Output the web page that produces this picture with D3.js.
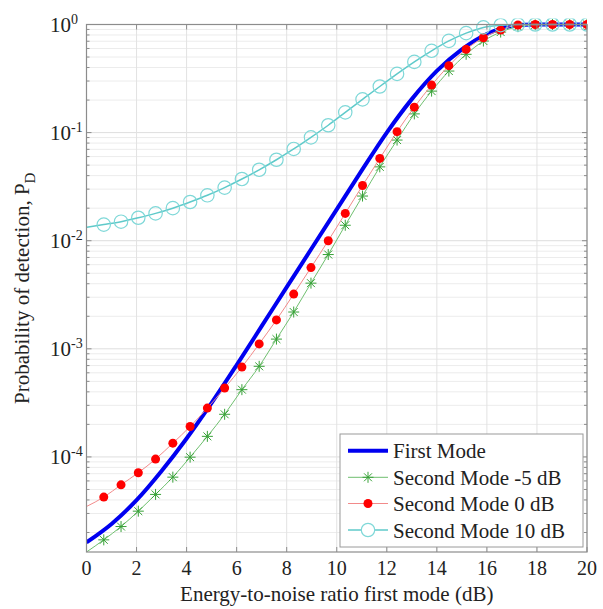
<!DOCTYPE html>
<html>
<head>
<meta charset="utf-8">
<script src="https://cdn.jsdelivr.net/npm/d3@7"></script>
<style>
  body { margin: 0; background: #fff; }
</style>
</head>
<body>
<div id="chart"></div>
<script>
// x values (dB) where the second-mode curves are sampled / marked
const snrMarks = [0, 0.69, 1.38, 2.07, 2.76, 3.45, 4.14, 4.83, 5.52, 6.21, 6.90, 7.59, 8.28, 8.97, 9.66,
  10.34, 11.03, 11.72, 12.41, 13.10, 13.79, 14.48, 15.17, 15.86, 16.55, 17.24, 17.93, 18.62, 19.31, 20];

// first mode, read at whole dB
const snrFirst = [0, 1, 2, 3, 4, 5, 6, 7, 8, 9, 10, 11, 12, 13, 14, 15, 16, 17, 18, 19, 20];
const pdFirst = [1.62e-5, 2.40e-5, 3.98e-5, 7.41e-5, 1.48e-4, 3.16e-4, 7.08e-4, 1.62e-3, 3.72e-3, 8.51e-3,
  1.95e-2, 4.47e-2, 0.100, 0.204, 0.372, 0.589, 0.817, 0.970, 1, 1, 1];

const pdSecondM5 = [1.32e-5, 1.71e-5, 2.27e-5, 3.15e-5, 4.50e-5, 6.50e-5, 9.95e-5, 1.55e-4, 2.48e-4, 4.19e-4,
  6.89e-4, 1.23e-3, 2.19e-3, 4.05e-3, 7.45e-3, 1.39e-2, 2.59e-2, 4.82e-2, 8.53e-2, 0.149,
  0.242, 0.371, 0.530, 0.703, 0.851, 0.955, 0.993, 1, 1, 1];

const pdSecond0 = [3.48e-5, 4.25e-5, 5.52e-5, 7.14e-5, 9.55e-5, 1.34e-4, 1.91e-4, 2.83e-4, 4.34e-4, 6.78e-4,
  1.11e-3, 1.85e-3, 3.21e-3, 5.64e-3, 1.00e-2, 1.79e-2, 3.24e-2, 5.77e-2, 0.102, 0.172,
  0.275, 0.416, 0.589, 0.755, 0.889, 0.99, 1, 1, 1, 1];

const pdSecond10 = [1.33e-2, 1.41e-2, 1.50e-2, 1.63e-2, 1.79e-2, 2.00e-2, 2.28e-2, 2.63e-2, 3.10e-2, 3.72e-2,
  4.53e-2, 5.61e-2, 7.06e-2, 9.04e-2, 0.117, 0.154, 0.203, 0.267, 0.349, 0.451,
  0.571, 0.705, 0.832, 0.94, 0.985, 0.998, 1, 1, 1, 1];

const xTicks = [0, 2, 4, 6, 8, 10, 12, 14, 16, 18, 20];
const yDecades = [-4, -3, -2, -1, 0];
const yDomain = [1.32e-5, 1];

const legendLabels = ["First Mode", "Second Mode -5 dB", "Second Mode 0 dB", "Second Mode 10 dB"];

const width = 603, height = 609;
const plot = { left: 86.5, right: 587, top: 24.5, bottom: 552 };
const serif = '"Liberation Serif", "Times New Roman", Times, "DejaVu Serif", serif';

const svg = d3.select("#chart").append("svg")
  .attr("width", width)
  .attr("height", height)
  .attr("font-family", serif)
  .style("font-family", serif);

const x = d3.scaleLinear().domain([0, 20]).range([plot.left, plot.right]);
const y = d3.scaleLog().domain(yDomain).range([plot.bottom, plot.top]);

// minor log positions inside the domain
let minorY = [];
for (let e = -5; e <= 0; e++) {
  for (let k = 2; k <= 9; k++) {
    const v = k * Math.pow(10, e);
    if (v > yDomain[0] && v < yDomain[1]) minorY.push(v);
  }
}
const majorY = yDecades.map(e => Math.pow(10, e));

// grid
const grid = svg.append("g").attr("class", "grid");
grid.selectAll(".gminor").data(minorY).enter().append("line")
  .attr("x1", plot.left).attr("x2", plot.right)
  .attr("y1", d => y(d)).attr("y2", d => y(d))
  .attr("stroke", "#ececec").attr("stroke-width", 1);
grid.selectAll(".gmajor").data(majorY).enter().append("line")
  .attr("x1", plot.left).attr("x2", plot.right)
  .attr("y1", d => y(d)).attr("y2", d => y(d))
  .attr("stroke", "#dedede").attr("stroke-width", 1);
grid.selectAll(".gx").data(xTicks).enter().append("line")
  .attr("x1", d => x(d)).attr("x2", d => x(d))
  .attr("y1", plot.top).attr("y2", plot.bottom)
  .attr("stroke", "#e2e2e2").attr("stroke-width", 1);

// series
svg.append("clipPath").attr("id", "clip")
  .append("rect")
  .attr("x", plot.left).attr("y", plot.top - 6)
  .attr("width", plot.right - plot.left).attr("height", plot.bottom - plot.top + 6);

const lineGen = d3.line()
  .x(d => x(d[0]))
  .y(d => y(d[1]))
  .curve(d3.curveMonotoneX);

const series = svg.append("g").attr("clip-path", "url(#clip)");

const firstPts = d3.zip(snrFirst, pdFirst);
const m5Pts = d3.zip(snrMarks, pdSecondM5);
const p0Pts = d3.zip(snrMarks, pdSecond0);
const p10Pts = d3.zip(snrMarks, pdSecond10);

series.append("path").attr("d", lineGen(firstPts))
  .attr("fill", "none").attr("stroke", "#0000f0").attr("stroke-width", 4);

function asterisk(g, cx, cy, r, color) {
  const a = r * 0.72;
  g.append("path")
    .attr("d", `M${cx - r},${cy}L${cx + r},${cy}M${cx},${cy - r}L${cx},${cy + r}` +
      `M${cx - a},${cy - a}L${cx + a},${cy + a}M${cx - a},${cy + a}L${cx + a},${cy - a}`)
    .attr("stroke", color).attr("stroke-width", 1).attr("fill", "none");
}

series.append("path").attr("d", lineGen(m5Pts))
  .attr("fill", "none").attr("stroke", "#6fbf6f").attr("stroke-width", 1);
const m5Marks = series.append("g");
m5Pts.slice(1).forEach(p => asterisk(m5Marks, x(p[0]), y(p[1]), 5.5, "#38a238"));

series.append("path").attr("d", lineGen(p0Pts))
  .attr("fill", "none").attr("stroke", "#f28a8a").attr("stroke-width", 1);
series.append("g").selectAll("circle").data(p0Pts.slice(1)).enter().append("circle")
  .attr("cx", d => x(d[0])).attr("cy", d => y(d[1])).attr("r", 4.5)
  .attr("fill", "#ff0000");

series.append("path").attr("d", lineGen(p10Pts))
  .attr("fill", "none").attr("stroke", "#5fcaca").attr("stroke-width", 1.5);
series.append("g").selectAll("circle").data(p10Pts.slice(1)).enter().append("circle")
  .attr("cx", d => x(d[0])).attr("cy", d => y(d[1])).attr("r", 6.7)
  .attr("fill", "none").attr("stroke", "#7fd8d8").attr("stroke-width", 1.2);

// axes box and ticks
const axisColor = "#8c8c8c";
const axes = svg.append("g");
axes.append("rect")
  .attr("x", plot.left).attr("y", plot.top)
  .attr("width", plot.right - plot.left).attr("height", plot.bottom - plot.top)
  .attr("fill", "none").attr("stroke", axisColor).attr("stroke-width", 1.2);

xTicks.forEach(t => {
  axes.append("line").attr("x1", x(t)).attr("x2", x(t))
    .attr("y1", plot.bottom).attr("y2", plot.bottom - 5).attr("stroke", axisColor);
  axes.append("line").attr("x1", x(t)).attr("x2", x(t))
    .attr("y1", plot.top).attr("y2", plot.top + 5).attr("stroke", axisColor);
});
majorY.forEach(v => {
  axes.append("line").attr("x1", plot.left).attr("x2", plot.left + 5)
    .attr("y1", y(v)).attr("y2", y(v)).attr("stroke", axisColor);
  axes.append("line").attr("x1", plot.right).attr("x2", plot.right - 5)
    .attr("y1", y(v)).attr("y2", y(v)).attr("stroke", axisColor);
});
minorY.forEach(v => {
  axes.append("line").attr("x1", plot.left).attr("x2", plot.left + 3)
    .attr("y1", y(v)).attr("y2", y(v)).attr("stroke", axisColor);
  axes.append("line").attr("x1", plot.right).attr("x2", plot.right - 3)
    .attr("y1", y(v)).attr("y2", y(v)).attr("stroke", axisColor);
});

// tick labels
svg.append("g").selectAll("text").data(xTicks).enter().append("text")
  .attr("x", d => x(d)).attr("y", 575)
  .attr("text-anchor", "middle")
  .attr("fill", "#222")
  .style("font-size", "20px")
  .text(d => d);

const yLab = svg.append("g").attr("fill", "#222");
yDecades.forEach(e => {
  const yy = y(Math.pow(10, e));
  yLab.append("text")
    .attr("x", 71).attr("y", yy + 7.5)
    .attr("text-anchor", "end")
    .style("font-size", "21px")
    .text("10");
  yLab.append("text")
    .attr("x", 71).attr("y", yy - 1)
    .attr("text-anchor", "start")
    .style("font-size", "14px")
    .text(e === 0 ? "0" : "-" + Math.abs(e));
});

// axis titles
svg.append("text")
  .attr("x", (plot.left + plot.right) / 2).attr("y", 601)
  .attr("text-anchor", "middle")
  .attr("fill", "#222")
  .style("font-size", "21px")
  .text("Energy-to-noise ratio first mode (dB)");

const yTitle = svg.append("text")
  .attr("transform", `translate(29, ${(plot.top + plot.bottom) / 2}) rotate(-90)`)
  .attr("text-anchor", "middle")
  .attr("fill", "#222")
  .style("font-size", "21px");
yTitle.append("tspan").text("Probability of detection, P");
yTitle.append("tspan").attr("dy", 6).style("font-size", "15px").text("D");

// legend
const legend = svg.append("g");
legend.append("rect")
  .attr("x", 340).attr("y", 434).attr("width", 243).attr("height", 113)
  .attr("fill", "#fff").attr("stroke", "#9a9a9a").attr("stroke-width", 1);

const rowY = [450.7, 477.3, 503.5, 530];
const lx1 = 348, lx2 = 388, lmid = 368;
legend.append("line").attr("x1", lx1).attr("x2", lx2).attr("y1", rowY[0]).attr("y2", rowY[0])
  .attr("stroke", "#0000f0").attr("stroke-width", 4);
legend.append("line").attr("x1", lx1).attr("x2", lx2).attr("y1", rowY[1]).attr("y2", rowY[1])
  .attr("stroke", "#6fbf6f").attr("stroke-width", 1);
asterisk(legend, lmid, rowY[1], 5.5, "#38a238");
legend.append("line").attr("x1", lx1).attr("x2", lx2).attr("y1", rowY[2]).attr("y2", rowY[2])
  .attr("stroke", "#f28a8a").attr("stroke-width", 1);
legend.append("circle").attr("cx", lmid).attr("cy", rowY[2]).attr("r", 4.5).attr("fill", "#ff0000");
legend.append("line").attr("x1", lx1).attr("x2", lx2).attr("y1", rowY[3]).attr("y2", rowY[3])
  .attr("stroke", "#5fcaca").attr("stroke-width", 1.5);
legend.append("circle").attr("cx", lmid).attr("cy", rowY[3]).attr("r", 6.7)
  .attr("fill", "#fff").attr("stroke", "#7fd8d8").attr("stroke-width", 1.2);

legend.selectAll(".ltext").data(legendLabels).enter().append("text")
  .attr("x", 393).attr("y", (d, i) => rowY[i] + 7.5)
  .attr("fill", "#222")
  .style("font-size", "21px")
  .text(d => d);
</script>
</body>
</html>
